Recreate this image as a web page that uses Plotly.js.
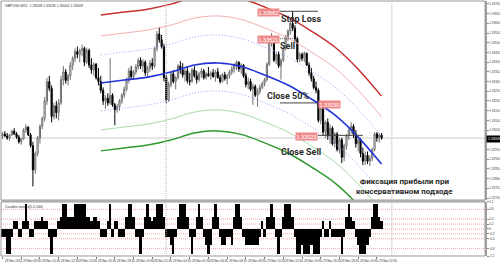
<!DOCTYPE html>
<html><head><meta charset="utf-8">
<script src="https://cdn.plot.ly/plotly-3.0.1.min.js"></script>
<style>html,body{margin:0;padding:0;background:#fff}#chart{width:500px;height:265px}</style>
</head><body><div id="chart"></div>
<script>
// ---- candle data (GBPUSD, M15) ----
const open = [1.33020,1.33030,1.33020,1.33010,1.33025,1.33045,1.33030,1.33015,1.32990,1.33005,1.33050,1.33065,1.33025,1.32970,1.32845,1.32930,1.33010,1.33070,1.33110,1.33200,
1.33300,1.33265,1.33120,1.33175,1.33140,1.33190,1.33310,1.33350,1.33305,1.33330,1.33385,1.33420,1.33455,1.33440,1.33460,1.33470,1.33400,1.33460,1.33385,1.33360,
1.33390,1.33320,1.33300,1.33255,1.33200,1.33215,1.33190,1.33230,1.33180,1.33155,1.33170,1.33200,1.33230,1.33260,1.33305,1.33355,1.33325,1.33350,1.33375,1.33410,
1.33380,1.33400,1.33345,1.33370,1.33395,1.33380,1.33470,1.33545,1.33515,1.33480,1.33320,1.33205,1.33285,1.33340,1.33300,1.33320,1.33380,1.33360,1.33335,1.33355,
1.33305,1.33300,1.33360,1.33330,1.33310,1.33340,1.33355,1.33320,1.33340,1.33330,1.33345,1.33325,1.33350,1.33320,1.33300,1.33335,1.33315,1.33330,1.33350,1.33365,
1.33385,1.33400,1.33365,1.33385,1.33330,1.33285,1.33300,1.33260,1.33275,1.33230,1.33250,1.33270,1.33290,1.33310,1.33390,1.33500,1.33530,1.33410,1.33440,1.33380,
1.33410,1.33470,1.33530,1.33560,1.33600,1.33575,1.33520,1.33415,1.33440,1.33420,1.33445,1.33385,1.33345,1.33315,1.33270,1.33255,1.33100,1.33160,1.33040,1.33090,
1.33020,1.33060,1.32980,1.33030,1.32950,1.33000,1.32910,1.32970,1.33020,1.33050,1.33070,1.33030,1.32980,1.33000,1.32930,1.32890,1.32920,1.32890,1.32905,1.32950,
1.33030,1.33010,1.33025];
const high = [1.33040,1.33045,1.33035,1.33030,1.33050,1.33060,1.33040,1.33025,1.33010,1.33060,1.33080,1.33070,1.33035,1.32990,1.32940,1.33020,1.33080,1.33120,1.33220,1.33320,
1.33330,1.33280,1.33190,1.33200,1.33210,1.33330,1.33380,1.33365,1.33340,1.33400,1.33430,1.33470,1.33480,1.33470,1.33490,1.33480,1.33475,1.33470,1.33420,1.33400,
1.33395,1.33370,1.33330,1.33270,1.33230,1.33240,1.33420,1.33240,1.33190,1.33185,1.33210,1.33240,1.33275,1.33320,1.33370,1.33380,1.33360,1.33390,1.33420,1.33425,
1.33415,1.33410,1.33380,1.33410,1.33420,1.33480,1.33560,1.33580,1.33540,1.33495,1.33335,1.33300,1.33350,1.33360,1.33330,1.33390,1.33405,1.33395,1.33370,1.33375,
1.33345,1.33370,1.33380,1.33355,1.33350,1.33370,1.33365,1.33350,1.33375,1.33355,1.33365,1.33360,1.33370,1.33335,1.33345,1.33350,1.33340,1.33360,1.33380,1.33395,
1.33410,1.33405,1.33395,1.33390,1.33345,1.33320,1.33315,1.33290,1.33285,1.33265,1.33285,1.33300,1.33320,1.33400,1.33520,1.33550,1.33535,1.33450,1.33455,1.33420,
1.33480,1.33540,1.33570,1.33610,1.33662,1.33590,1.33530,1.33450,1.33450,1.33455,1.33450,1.33400,1.33370,1.33330,1.33300,1.33265,1.33180,1.33175,1.33100,1.33110,
1.33080,1.33070,1.33040,1.33040,1.33010,1.33010,1.32980,1.33030,1.33060,1.33090,1.33080,1.33050,1.33020,1.33010,1.32960,1.32940,1.32940,1.32920,1.32960,1.33040,
1.33040,1.33035,1.33035];
const low = [1.33005,1.33015,1.33000,1.32995,1.33020,1.33025,1.33005,1.32980,1.32975,1.33000,1.33035,1.33020,1.32960,1.32760,1.32825,1.32915,1.32980,1.33055,1.33095,1.33180,
1.33250,1.33090,1.33105,1.33110,1.33100,1.33180,1.33280,1.33290,1.33280,1.33310,1.33360,1.33400,1.33420,1.33400,1.33430,1.33380,1.33390,1.33370,1.33340,1.33330,
1.33310,1.33280,1.33240,1.33180,1.33160,1.33175,1.33180,1.33170,1.33075,1.33140,1.33150,1.33185,1.33215,1.33250,1.33290,1.33315,1.33310,1.33335,1.33360,1.33365,
1.33350,1.33330,1.33325,1.33350,1.33360,1.33370,1.33455,1.33500,1.33470,1.33300,1.33190,1.33195,1.33270,1.33290,1.33260,1.33310,1.33340,1.33320,1.33300,1.33290,
1.33280,1.33295,1.33320,1.33290,1.33300,1.33320,1.33310,1.33310,1.33325,1.33310,1.33320,1.33300,1.33315,1.33290,1.33295,1.33305,1.33285,1.33315,1.33335,1.33345,
1.33360,1.33350,1.33340,1.33320,1.33270,1.33260,1.33250,1.33180,1.33220,1.33170,1.33235,1.33260,1.33275,1.33300,1.33380,1.33480,1.33400,1.33390,1.33370,1.33310,
1.33400,1.33460,1.33510,1.33540,1.33560,1.33500,1.33400,1.33400,1.33405,1.33400,1.33380,1.33330,1.33300,1.33260,1.33240,1.33090,1.33080,1.33020,1.33010,1.33000,
1.32980,1.32970,1.32960,1.32940,1.32930,1.32880,1.32890,1.32950,1.33000,1.33030,1.33010,1.32960,1.32940,1.32910,1.32870,1.32870,1.32875,1.32865,1.32890,1.32940,
1.32990,1.32985,1.33000];
const close = [1.33030,1.33020,1.33010,1.33025,1.33045,1.33030,1.33015,1.32990,1.33005,1.33050,1.33065,1.33025,1.32970,1.32845,1.32930,1.33010,1.33070,1.33110,1.33200,1.33300,
1.33265,1.33120,1.33175,1.33140,1.33190,1.33310,1.33350,1.33305,1.33330,1.33385,1.33420,1.33455,1.33440,1.33460,1.33470,1.33400,1.33460,1.33385,1.33360,1.33390,
1.33320,1.33300,1.33255,1.33200,1.33215,1.33190,1.33230,1.33180,1.33155,1.33170,1.33200,1.33230,1.33260,1.33305,1.33355,1.33325,1.33350,1.33375,1.33410,1.33380,
1.33400,1.33345,1.33370,1.33395,1.33380,1.33470,1.33545,1.33515,1.33480,1.33320,1.33205,1.33285,1.33340,1.33300,1.33320,1.33380,1.33360,1.33335,1.33355,1.33305,
1.33300,1.33360,1.33330,1.33310,1.33340,1.33355,1.33320,1.33340,1.33330,1.33345,1.33325,1.33350,1.33320,1.33300,1.33335,1.33315,1.33330,1.33350,1.33365,1.33385,
1.33400,1.33365,1.33385,1.33330,1.33285,1.33300,1.33260,1.33275,1.33230,1.33250,1.33270,1.33290,1.33310,1.33390,1.33500,1.33530,1.33410,1.33440,1.33380,1.33410,
1.33470,1.33530,1.33560,1.33600,1.33575,1.33520,1.33415,1.33440,1.33420,1.33445,1.33385,1.33345,1.33315,1.33270,1.33255,1.33100,1.33160,1.33040,1.33090,1.33020,
1.33060,1.32980,1.33030,1.32950,1.33000,1.32910,1.32970,1.33020,1.33050,1.33070,1.33030,1.32980,1.33000,1.32930,1.32890,1.32920,1.32890,1.32905,1.32950,1.33030,
1.33010,1.33025,1.33009];

// ---- "Candles weight" indicator ----
const weight = [-0.33,-0.33,-1,-1,-0.33,0.33,0.33,-0.33,-0.33,0.33,1,0.33,-0.33,-0.33,0.33,0.33,0.33,0.5,0.33,0.33,
-0.33,-1,-0.33,-0.33,0.33,0.5,1,1,0.5,0.5,0.5,1,1,1,1,1,0.5,0.5,0.33,0.5,
0.5,0.33,-0.33,-0.33,-0.33,0.33,1,-0.33,0.33,0.33,-0.33,-0.33,-0.33,0.5,1,1,0.5,-0.33,-0.33,-1,
-0.33,0.5,1,0.5,0.33,0.5,1,1,1,0.5,-0.33,-0.33,-0.67,-1,-0.33,0.5,1,1,1,0.5,
-0.33,-1,-0.33,0.5,1,0.5,-0.33,-0.67,-1,-0.67,0.5,1,0.5,-0.33,-0.67,-0.67,-0.33,-0.33,-0.67,0.5,
1,1,0.5,-0.33,-0.67,-0.67,-0.67,-0.67,-0.67,-0.67,-0.33,0.33,-0.33,0.5,0.5,1,0.5,-0.33,-1,-0.33,
0.5,1,1,1,0.5,-0.33,-1,-1,-0.67,-1,-1,-1,-0.67,-1,-1,-1,-0.33,0.33,-0.33,-0.33,
0.33,-0.33,-0.33,-0.33,-0.33,-1,-0.33,0.5,1,0.5,0.33,-0.33,-0.67,-1,-1,-1,-0.67,-0.33,0.5,1,
1,0.5,0.33];
const weightLevels = [0.8, 0.4, 0.2, 0, -0.2, -0.4, -0.8];
const weightTicks = [1.1, 0.8, 0.4, 0.2, 0, -0.2, -0.4, -0.8, -1.1];
const weightTickText = ['1.1','0.8','0.4','0.2','0','-0.2','-0.4','-0.8','-1.1'];

// ---- regression channel (bar index, price) ----
const chanBars = [42,52,62,72,82,92,102,112,122,132,142,152,162];
const chanMid = [1.33293,1.33308,1.33323,1.33349,1.33385,1.33396,1.33378,1.33334,1.33282,1.33210,1.33128,1.33014,1.32875];
const chanUp1 = [1.33437,1.33452,1.33467,1.33493,1.33529,1.33540,1.33522,1.33478,1.33426,1.33354,1.33272,1.33158,1.33019];
const chanUp2 = [1.33535,1.33550,1.33565,1.33591,1.33627,1.33638,1.33620,1.33576,1.33524,1.33452,1.33370,1.33256,1.33117];
const chanUp3 = [1.33643,1.33658,1.33673,1.33699,1.33735,1.33746,1.33728,1.33684,1.33632,1.33560,1.33478,1.33364,1.33225];
const chanDn1 = [1.33149,1.33164,1.33179,1.33205,1.33241,1.33252,1.33234,1.33190,1.33138,1.33066,1.32984,1.32870,1.32731];
const chanDn2 = [1.33051,1.33066,1.33081,1.33107,1.33143,1.33154,1.33136,1.33092,1.33040,1.32968,1.32886,1.32772,1.32633];
const chanDn3 = [1.32943,1.32958,1.32973,1.32999,1.33035,1.33046,1.33028,1.32984,1.32932,1.32860,1.32778,1.32664,1.32525];

// ---- trade levels ----
const stopLoss = 1.33662, sellPrice = 1.33521, close50 = 1.33190, closeSell = 1.33023;
const bidPrice = 1.33009;

// ---- axis labels ----
const priceTicks = [1.32700,1.32750,1.32800,1.32850,1.32900,1.32950,1.33000,1.33050,1.33100,1.33150,1.33200,1.33250,1.33300,1.33350,1.33400,1.33450,1.33500,1.33550,1.33600,1.33650,1.33700];
const priceTickText = ['1.32700','1.32750','1.32800','1.32850','1.32900','1.32950','1.33000','1.33050','1.33100','1.33150','1.33200','1.33250','1.33300','1.33350','1.33400','1.33450','1.33500','1.33550','1.33600','1.33650','1.33700'];
const timeLabels = ['28 Nov 2013','28 Nov 08:30','28 Nov 10:30','28 Nov 12:30','28 Nov 14:30','28 Nov 16:30','28 Nov 18:30','28 Nov 20:30','28 Nov 22:30','29 Nov 00:30','29 Nov 02:30','29 Nov 04:30','29 Nov 06:30','29 Nov 08:30','29 Nov 10:30','29 Nov 12:30','29 Nov 14:30','29 Nov 16:30','29 Nov 18:30','29 Nov 20:30','29 Nov 22:30'];
const barsPerLabel = 8;
const separators = [69.9, 166.4];

const idx = close.map((_, i) => i);
const labelBars = timeLabels.map((_, k) => k * barsPerLabel);

const chLine = (y, color, width, dash) => ({type:'scatter', mode:'lines', x: chanBars, y: y, xaxis:'x', yaxis:'y',
  line:{color:color, width:width, dash:dash || 'solid', shape:'spline', smoothing:1}, hoverinfo:'skip'});

const traces = [
  {type:'candlestick', x: idx, open: open, high: high, low: low, close: close, xaxis:'x', yaxis:'y',
   increasing:{line:{color:'#707070', width:1}, fillcolor:'#ffffff'},
   decreasing:{line:{color:'#000000', width:1}, fillcolor:'#000000'},
   whiskerwidth:0, hoverinfo:'skip'},
  chLine(chanUp3, '#c83030', 1.5),
  chLine(chanUp2, '#f4b0b0', 1),
  chLine(chanUp1, '#9c9cff', 1, '1px,2px'),
  chLine(chanMid, '#2233d8', 1.6),
  chLine(chanDn1, '#9c9cff', 1, '1px,2px'),
  chLine(chanDn2, '#a8dca8', 1),
  chLine(chanDn3, '#2f9a2f', 1.5),
  {type:'bar', x: idx, y: weight, xaxis:'x', yaxis:'y2', marker:{color:'#000', line:{width:0}}, hoverinfo:'skip'}
];

const mainBottom = 0.2196, subTop = 0.2118;
const shapes = [];
shapes.push({type:'rect', xref:'paper', yref:'paper', x0:0, x1:1, y0:subTop, y1:mainBottom, fillcolor:'#c4c4c4', line:{width:0}});
shapes.push({type:'rect', xref:'paper', yref:'paper', x0:0, x1:1, y0:mainBottom, y1:1, line:{color:'#9a9a9a', width:1}});
shapes.push({type:'rect', xref:'paper', yref:'paper', x0:0, x1:1, y0:0, y1:subTop, line:{color:'#9a9a9a', width:1}});
shapes.push({type:'line', xref:'paper', yref:'y', x0:0, x1:1, y0:bidPrice, y1:bidPrice, line:{color:'#cccccc', width:1}, layer:'below'});
weightLevels.forEach(v => shapes.push({type:'line', xref:'paper', yref:'y2', x0:0, x1:1, y0:v, y1:v, line:{color:'#f5a3a3', width:1, dash:'1px,1px'}, layer:'below'}));
separators.forEach(s => shapes.push({type:'line', xref:'x', yref:'paper', x0:s, x1:s, y0:0, y1:1, line:{color:'#b4b4b4', width:1, dash:'1px,1px'}}));
shapes.push({type:'line', xref:'x', yref:'y', x0:118.6, x1:134.8, y0:stopLoss, y1:stopLoss, line:{color:'#444', width:1}});
shapes.push({type:'line', xref:'x', yref:'y', x0:118.6, x1:124.5, y0:sellPrice, y1:sellPrice, line:{color:'#555', width:1, dash:'1px,1px'}});
shapes.push({type:'line', xref:'x', yref:'y', x0:118.6, x1:134.8, y0:close50, y1:close50, line:{color:'#444', width:1}});
shapes.push({type:'line', xref:'x', yref:'y', x0:134.8, x1:154, y0:closeSell, y1:closeSell, line:{color:'#444', width:1}});

const boldFont = (s) => ({family:'Roboto, Arial, sans-serif', size:s, color:'#2b2b2b', weight:700});
const tag = (txt, x, y, xa, ys) => ({x:x, y:y, xref:'x', yref:'y', text:txt, showarrow:false, xanchor:xa, yanchor:'middle', yshift:ys,
  font:{family:'Liberation Sans, Arial', size:5.5, color:'#ffffff'}, bgcolor:'#f08a8a', borderpad:0.5});

const annotations = [
  {xref:'paper', yref:'paper', x:0.004, y:0.997, xanchor:'left', yanchor:'top', showarrow:false,
   text:'GBPUSD,M15  1.33008 1.33035 1.33000 1.33009', font:{family:'Liberation Sans, Arial', size:3.5, color:'#333'}},
  {xref:'paper', yref:'paper', x:0.004, y:subTop - 0.002, xanchor:'left', yanchor:'top', showarrow:false,
   text:'Candles weight(5,0.500)', font:{family:'Liberation Sans, Arial', size:3.5, color:'#333'}},
  tag(stopLoss.toFixed(5), 118.6, stopLoss, 'right', -1.5),
  {x:127.6, y:stopLoss, xref:'x', yref:'y', text:'Stop Loss', showarrow:false, xanchor:'center', yanchor:'top', yshift:-0.5, font:boldFont(9)},
  tag(sellPrice.toFixed(5), 118.6, sellPrice, 'right', -1),
  {x:122, y:sellPrice, xref:'x', yref:'y', text:'Sell', showarrow:false, xanchor:'center', yanchor:'top', yshift:-0.5, font:boldFont(9)},
  {x:122, y:close50, xref:'x', yref:'y', text:'Close 50%', showarrow:false, xanchor:'center', yanchor:'bottom', yshift:0, font:boldFont(9)},
  tag(close50.toFixed(5), 134.8, close50, 'left', -2),
  tag(closeSell.toFixed(5), 134.8, closeSell, 'right', -1.5),
  {x:127.6, y:1.32937, xref:'x', yref:'y', text:'Close Sell', showarrow:false, xanchor:'center', yanchor:'middle', font:boldFont(9)},
  {x:172, y:1.32762, xref:'x', yref:'y', text:'Фиксация прибыли при<br>консервативном подходе', showarrow:false, xanchor:'center', yanchor:'middle', align:'center', font:boldFont(8)},
  {xref:'paper', yref:'y', x:1, y:bidPrice, xanchor:'left', yanchor:'middle', xshift:0.5, yshift:-1.2, showarrow:false, text:bidPrice.toFixed(5),
   font:{family:'Liberation Sans, Arial', size:3.4, color:'#ffffff'}, bgcolor:'#000000', borderpad:1}
];
timeLabels.forEach((t, k) => annotations.push({x: labelBars[k], y:0, xref:'x', yref:'paper', yanchor:'top', xanchor:'left', xshift:0, yshift:-1,
  text:t, showarrow:false, font:{family:'Liberation Sans, Arial', size:3, color:'#333'}}));

const layout = {
  width:500, height:265, margin:{l:1, r:15, t:1, b:9},
  paper_bgcolor:'#ffffff', plot_bgcolor:'#ffffff', showlegend:false, bargap:0,
  xaxis:{domain:[0,1], anchor:'y2', range:[-0.64, 206.2], rangeslider:{visible:false}, showgrid:false, zeroline:false,
    showticklabels:false, ticks:'outside', ticklen:2, tickcolor:'#777', tickvals:labelBars, showline:false, fixedrange:true},
  yaxis:{domain:[mainBottom,1], anchor:'x', side:'right', range:[1.32690,1.33715], tickvals:priceTicks, ticktext:priceTickText,
    tickfont:{family:'Liberation Sans, Arial', size:3.2, color:'#444'}, ticks:'outside', ticklen:1.5, tickcolor:'#888',
    showgrid:false, zeroline:false, showline:true, linecolor:'#a0a0a0', linewidth:2},
  yaxis2:{domain:[0,subTop], anchor:'x', side:'right', range:[-1.1,1.1], tickvals:weightTicks, ticktext:weightTickText,
    tickfont:{family:'Liberation Sans, Arial', size:3.2, color:'#444'}, ticks:'outside', ticklen:1.5, tickcolor:'#888',
    showgrid:false, zeroline:false, showline:true, linecolor:'#a0a0a0', linewidth:2},
  shapes:shapes, annotations:annotations
};
Plotly.newPlot('chart', traces, layout, {displayModeBar:false, staticPlot:true});
</script></body></html>
